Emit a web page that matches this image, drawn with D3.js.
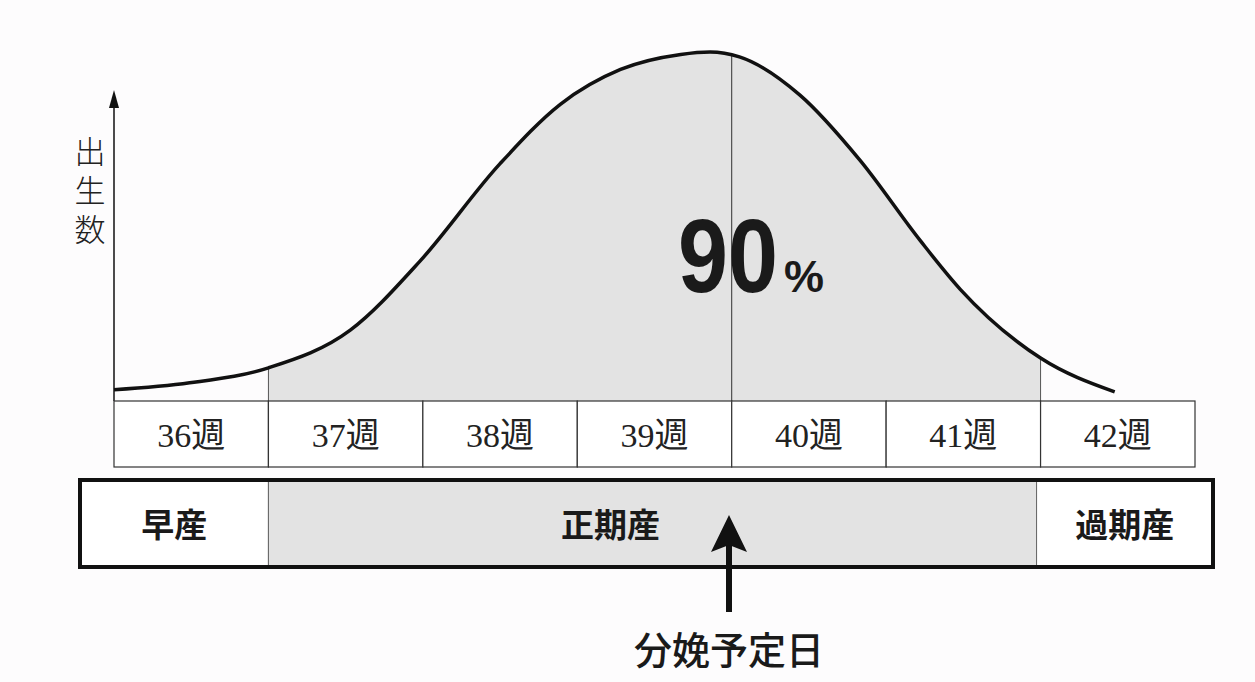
<!DOCTYPE html>
<html><head><meta charset="utf-8">
<script src="https://cdn.jsdelivr.net/npm/d3@7"></script>
<style>body{margin:0;background:#fdfcfd}</style></head>
<body><svg id="c" width="1255" height="682"></svg>
<script>
const weeks = ["36週","37週","38週","39週","40週","41週","42週"];
const periods = ["早産","正期産","過期産"];
const periodStart = [36, 37, 42];
const periodEnd = [37, 42, 43];
const curveWeek = [36, 36.49, 37, 37.53, 37.98, 38.5, 38.89, 39.28, 39.67, 39.86, 40.05, 40.44, 40.83, 41.22, 41.48, 42, 42.48];
const curveBirths = [3.2, 5.2, 9.5, 20.3, 40, 68, 85, 95, 99.3, 100, 98.6, 87.7, 69, 46, 32, 12.3, 2.6];
const dueWeek = 40;

const svg = d3.select("#c");
const x = d3.scaleLinear().domain([36, 43]).range([114, 1195]);
const y = d3.scaleLinear().domain([0, 100]).range([401, 52]);
const pts = curveWeek.map((w, i) => [w, curveBirths[i]]);

svg.append("defs").append("clipPath").attr("id","cl").append("rect")
  .attr("x", x(37)).attr("width", x(42)-x(37)).attr("y", 0).attr("height", 401);
svg.append("path").datum(pts).attr("clip-path","url(#cl)")
  .attr("d", d3.area().x(d=>x(d[0])).y0(y(0)).y1(d=>y(d[1])).curve(d3.curveMonotoneX))
  .attr("fill","#e3e3e3");
[37, 42].forEach(w => {
  const i = curveWeek.indexOf(w);
  svg.append("line").attr("x1",x(w)).attr("x2",x(w)).attr("y1",y(curveBirths[i])).attr("y2",y(0)).attr("stroke","#555").attr("stroke-width",1);
});
svg.append("line").attr("x1",x(dueWeek)).attr("x2",x(dueWeek)).attr("y1",y(99)).attr("y2",y(0)).attr("stroke","#333").attr("stroke-width",1);
svg.append("path").datum(pts)
  .attr("d", d3.line().x(d=>x(d[0])).y(d=>y(d[1])).curve(d3.curveMonotoneX))
  .attr("fill","none").attr("stroke","#111").attr("stroke-width",3.5);

// y axis arrow
svg.append("line").attr("x1",114).attr("x2",114).attr("y1",401).attr("y2",100).attr("stroke","#111").attr("stroke-width",1.5);
svg.append("path").attr("d","M114,90 L109,108 L119,108 Z").attr("fill","#111");
svg.append("text").attr("x",90).attr("y",163).attr("font-family","Noto Sans CJK JP").attr("font-weight",300)
  .attr("font-size",31).attr("text-anchor","middle").attr("fill","#222")
  .selectAll("tspan").data(["出","生","数"]).join("tspan").attr("x",90).attr("dy",(d,i)=>i?39:0).text(d=>d);

// week cells
const g = svg.append("g");
weeks.forEach((w,i) => {
  g.append("rect").attr("x",x(36+i)).attr("y",401).attr("width",x(37)-x(36)).attr("height",66)
    .attr("fill","#fff").attr("stroke","#333").attr("stroke-width",1.2);
  g.append("text").attr("x",x(36.5+i)).attr("y",447).attr("text-anchor","middle")
    .attr("font-family","Liberation Serif, Noto Sans CJK JP").attr("font-size",34).attr("fill","#222").text(w);
});

// 90%
const t = svg.append("text").attr("x",678).attr("y",292).attr("font-family","Liberation Sans").attr("font-weight","bold").attr("fill","#1a1a1a");
t.append("tspan").attr("font-size",104).attr("textLength",100).attr("lengthAdjust","spacingAndGlyphs").text("90");
t.append("tspan").attr("font-size",44).attr("dx",6).attr("textLength",40).attr("lengthAdjust","spacingAndGlyphs").text("%");

// periods box
periods.forEach((p,i) => {
  const x0 = i===0 ? 80 : x(periodStart[i]) - (i===2?4:0);
  const x1 = i===2 ? 1213 : x(periodEnd[i]) - (i===1?4:0);
  svg.append("rect").attr("x",x0).attr("y",481).attr("width",x1-x0).attr("height",85)
    .attr("fill", i===1 ? "#e3e3e3" : "#fff").attr("stroke","#666").attr("stroke-width",1);
  svg.append("text").attr("x",(x0+x1)/2 + (i===1?-42:0)).attr("y",537).attr("text-anchor","middle")
    .attr("font-family","Noto Sans CJK JP").attr("font-weight",700).attr("font-size",33).attr("fill","#1a1a1a").text(p);
});
svg.append("rect").attr("x",80).attr("y",480).attr("width",1133).attr("height",87).attr("fill","none").attr("stroke","#111").attr("stroke-width",4);

// due date arrow
const ax = 729;
svg.append("line").attr("x1",ax).attr("x2",ax).attr("y1",612).attr("y2",540).attr("stroke","#111").attr("stroke-width",6);
svg.append("path").attr("d",`M${ax},515 L${ax-18},552 L${ax},545 L${ax+18},552 Z`).attr("fill","#111");
svg.append("text").attr("x",ax).attr("y",664).attr("text-anchor","middle").attr("font-family","Noto Sans CJK JP")
  .attr("font-weight",500).attr("font-size",38).attr("fill","#1a1a1a").text("分娩予定日");
</script></body></html>
